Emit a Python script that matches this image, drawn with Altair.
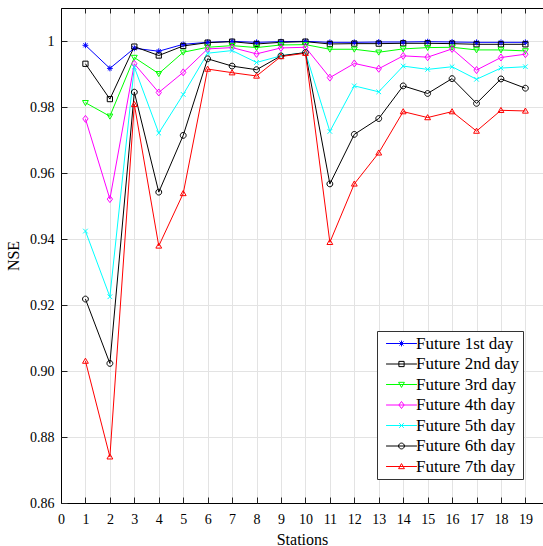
import altair as alt
import pandas as pd

stations = list(range(1, 20))
series_names = ["Future 1st day", "Future 2nd day", "Future 3rd day", "Future 4th day",
                "Future 5th day", "Future 6th day", "Future 7th day"]
series_colors = ["#0000FF", "#000000", "#00FF00", "#FF00FF", "#00FFFF", "#000000", "#FF0000"]

day1 = [0.9987, 0.9917, 0.9978, 0.9969, 0.9990, 0.9996, 0.9999, 0.9996, 0.9998, 0.9999,
        0.9996, 0.9996, 0.9997, 0.9997, 0.9998, 0.9997, 0.9996, 0.9996, 0.9996]
day2 = [0.9931, 0.9824, 0.9983, 0.9956, 0.9985, 0.9995, 0.9998, 0.9991, 0.9996, 0.9998,
        0.9991, 0.9992, 0.9992, 0.9993, 0.9993, 0.9992, 0.9990, 0.9990, 0.9990]
day3 = [0.9813, 0.9772, 0.9950, 0.9901, 0.9966, 0.9981, 0.9986, 0.9980, 0.9988, 0.9989,
        0.9975, 0.9975, 0.9966, 0.9976, 0.9980, 0.9981, 0.9973, 0.9973, 0.9970]
day4 = [0.9764, 0.9521, 0.9931, 0.9844, 0.9905, 0.9976, 0.9980, 0.9961, 0.9979, 0.9981,
        0.9889, 0.9932, 0.9916, 0.9955, 0.9951, 0.9976, 0.9912, 0.9950, 0.9960]
day5 = [0.9424, 0.9225, 0.9921, 0.9721, 0.9838, 0.9963, 0.9971, 0.9935, 0.9955, 0.9965,
        0.9726, 0.9864, 0.9846, 0.9924, 0.9914, 0.9922, 0.9884, 0.9918, 0.9922]
day6 = [0.9218, 0.9023, 0.9845, 0.9542, 0.9714, 0.9946, 0.9924, 0.9913, 0.9955, 0.9965,
        0.9567, 0.9717, 0.9765, 0.9864, 0.9841, 0.9886, 0.9811, 0.9885, 0.9857]
day7 = [0.9030, 0.8740, 0.9808, 0.9379, 0.9538, 0.9915, 0.9904, 0.9894, 0.9953, 0.9963,
        0.9390, 0.9567, 0.9661, 0.9786, 0.9768, 0.9786, 0.9727, 0.9790, 0.9788]

all_series = [day1, day2, day3, day4, day5, day6, day7]

# marker outlines within [-1, 1]
m_star = "M-1,0L1,0M0,-1L0,1M-0.7,-0.7L0.7,0.7M-0.7,0.7L0.7,-0.7"
m_square = "M-0.9,-0.9L0.9,-0.9L0.9,0.9L-0.9,0.9Z"
m_tdown = "M-1,-0.75L1,-0.75L0,1Z"
m_diamond = "M0,-1.2L0.9,0L0,1.2L-0.9,0Z"
m_x = "M-0.8,-0.8L0.8,0.8M-0.8,0.8L0.8,-0.8"
m_circle = "M1,0A1,1,0,1,1,-1,0A1,1,0,1,1,1,0Z"
m_tup = "M0,-1L1,0.75L-1,0.75Z"
markers = [m_star, m_square, m_tdown, m_diamond, m_x, m_circle, m_tup]
legend_line = "M-5.3,0L5.3,0"
legend_shapes = [legend_line + m for m in markers]

rows = []
for name, vals in zip(series_names, all_series):
    for s, v in zip(stations, vals):
        rows.append({"station": s, "nse": v, "series": name})
df = pd.DataFrame(rows)

FONT = "Liberation Serif"
MSIZE = 34
x_ticks = list(range(0, 20))
y_ticks = [0.86, 0.88, 0.90, 0.92, 0.94, 0.96, 0.98, 1.0]

xscale = alt.Scale(domain=[0, 19.72], nice=False, zero=False)
yscale = alt.Scale(domain=[0.86, 1.01], nice=False, zero=False)
cscale = alt.Scale(domain=series_names, range=series_colors)

base = alt.Chart(df)

# lines, with main labelled axes (inward ticks)
lines = base.mark_line(strokeWidth=1, clip=True).encode(
    x=alt.X("station:Q", scale=xscale,
            axis=alt.Axis(values=x_ticks, orient="bottom", offset=-6, tickSize=6,
                          domain=False, grid=False, labelPadding=9, title="Stations",
                          titlePadding=5, labelFlush=False, labelOverlap=False)),
    y=alt.Y("nse:Q", scale=yscale,
            axis=alt.Axis(values=y_ticks, orient="left", offset=-6, tickSize=6,
                          domain=False, grid=False, labelPadding=7, title="NSE",
                          titlePadding=8, labelFlush=False,
                          labelExpr="datum.value >= 0.9999 ? '1' : format(datum.value, '.2f')")),
    color=alt.Color("series:N", scale=cscale, legend=None),
    detail="series:N",
)

points = base.mark_point(filled=False, strokeWidth=1, size=MSIZE, opacity=1, clip=True).encode(
    x=alt.X("station:Q", scale=xscale,
            axis=alt.Axis(values=x_ticks, orient="top", offset=-5, tickSize=5,
                          domain=False, grid=False, labels=False, title=None)),
    y=alt.Y("nse:Q", scale=yscale, axis=None),
    color=alt.Color("series:N", scale=cscale, legend=None),
    shape=alt.Shape("series:N", scale=alt.Scale(domain=series_names, range=markers), legend=None),
)

# empty layer: frame lines, grid, and legend
leg = alt.Legend(title=None, orient="none", legendX=316, legendY=323, symbolSize=MSIZE)
legend_layer = base.transform_filter("false").mark_point(filled=False, strokeWidth=1, size=MSIZE, opacity=1).encode(
    x=alt.X("station:Q", scale=xscale,
            axis=alt.Axis(values=x_ticks, orient="bottom", domain=True, ticks=False,
                          labels=False, grid=True, title=None)),
    y=alt.Y("nse:Q", scale=yscale,
            axis=alt.Axis(values=y_ticks, orient="left", domain=True, ticks=False,
                          labels=False, grid=True, title=None)),
    color=alt.Color("series:N", scale=cscale, legend=leg),
    shape=alt.Shape("series:N", scale=alt.Scale(domain=series_names, range=legend_shapes),
                    legend=leg),
)

top_frame = base.transform_filter("false").mark_point().encode(
    x=alt.X("station:Q", scale=xscale,
            axis=alt.Axis(orient="top", domain=True, ticks=False, labels=False,
                          grid=False, title=None)),
    y=alt.Y("nse:Q", scale=yscale, axis=None),
)

chart = alt.layer(legend_layer, top_frame, lines, points).resolve_scale(
    color="independent", shape="independent"
).resolve_axis(
    x="independent", y="independent"
).properties(
    width=482,
    height=495,
    padding={"left": 61, "top": 8, "right": 0, "bottom": 43},
    autosize=alt.AutoSizeParams(type="none"),
    background="white",
).configure_view(stroke=None).configure_axis(
    labelFont=FONT, labelFontSize=14, labelColor="black",
    titleFont=FONT, titleFontSize=16, titleFontWeight="normal", titleColor="black",
    domainColor="black", domainWidth=1, tickColor="#222222", tickWidth=1,
    gridColor="#e3e3e3", gridWidth=1,
).configure_legend(
    labelFont=FONT, labelFontSize=17, labelColor="black",
    strokeColor="#333333", fillColor="white", padding=4, rowPadding=2.5,
    symbolStrokeWidth=1, symbolSize=MSIZE, symbolOffset=12, labelOffset=6, cornerRadius=0,
    labelLimit=300,
)

chart.save("out.html", embed_options={"renderer": "svg", "actions": False})
